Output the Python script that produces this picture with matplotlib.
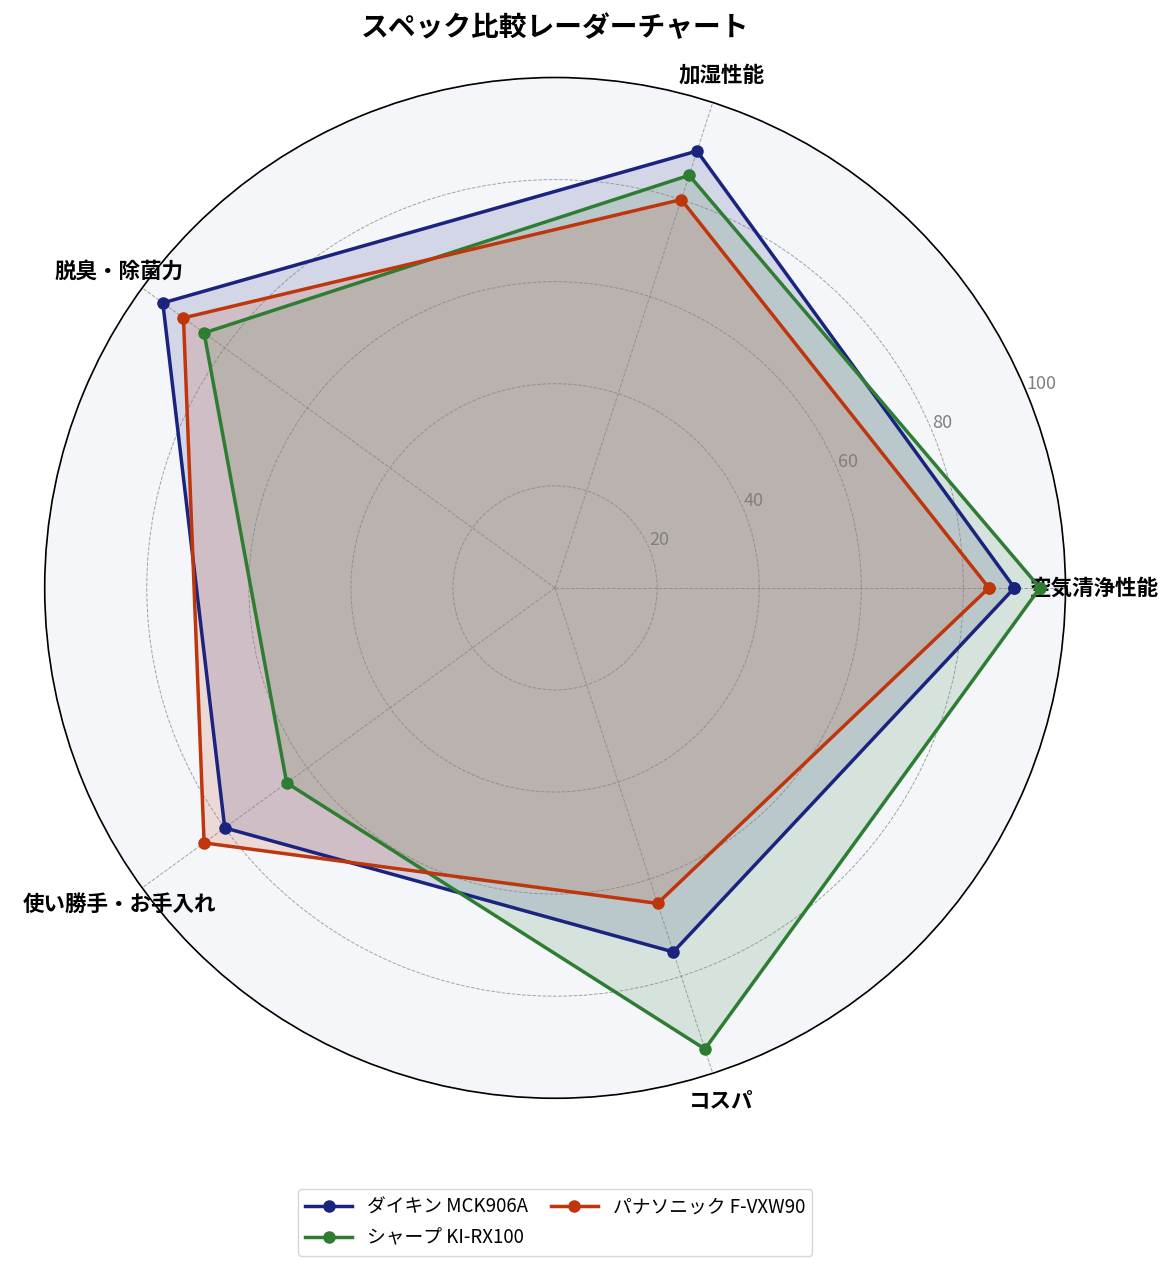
import matplotlib.pyplot as plt
import numpy as np

plt.rcParams['font.family'] = ['Noto Sans CJK JP', 'DejaVu Sans']

categories = ['空気清浄性能', '加湿性能', '脱臭・除菌力', '使い勝手・お手入れ', 'コスパ']
daikin = [90, 90, 95, 80, 75]
sharp = [95, 85, 85, 65, 95]
panasonic = [85, 80, 90, 85, 65]
series_names = ['ダイキン MCK906A', 'シャープ KI-RX100', 'パナソニック F-VXW90']
colors = ['#1a237e', '#2e7d32', '#bf360c']
r_ticks = [20, 40, 60, 80, 100]

angles = np.linspace(0, 2 * np.pi, len(categories), endpoint=False)
angles_closed = np.concatenate([angles, angles[:1]])

fig = plt.figure(figsize=(11.76, 12.67), dpi=100)
ax = fig.add_axes([0.038, 0.133, 0.868, 0.806], polar=True)
ax.set_facecolor('#f4f6fa')

for name, vals, c in zip(series_names, [daikin, sharp, panasonic], colors):
    v = np.concatenate([vals, vals[:1]])
    ax.plot(angles_closed, v, color=c, linewidth=2.5, marker='o', markersize=8, label=name)
    ax.fill(angles_closed, v, color=c, alpha=0.15)

ax.set_ylim(0, 100)
ax.set_xticks(angles)
ax.set_xticklabels(categories, fontsize=15.5, fontweight='bold')
ax.tick_params(axis='x', pad=10)
ax.set_yticks(r_ticks)
ax.set_yticklabels([str(t) for t in r_ticks], fontsize=13, color='gray')
ax.set_rlabel_position(22.5)
ax.grid(True, linestyle='--', linewidth=0.7, color='gray', alpha=0.7)
ax.spines['polar'].set_color('black')
ax.spines['polar'].set_linewidth(1.2)

ax.set_title('スペック比較レーダーチャート', fontsize=20, fontweight='bold', pad=30)
ax.legend(loc='upper center', bbox_to_anchor=(0.5, -0.08), ncol=2, fontsize=13.5,
          handlelength=2.5, columnspacing=1.2)

fig.savefig('out.png', dpi=100)
